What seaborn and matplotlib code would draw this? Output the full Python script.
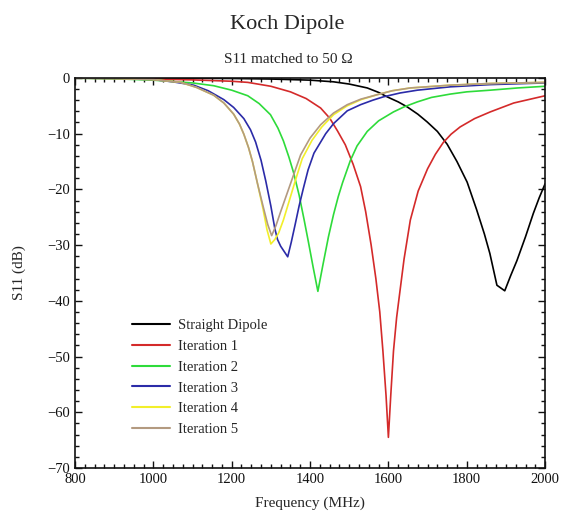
import numpy as np
import pandas as pd
import matplotlib
matplotlib.use("Agg")
import matplotlib.pyplot as plt
import seaborn as sns
from matplotlib.ticker import MultipleLocator

# ---- data ----
series_names = ["Straight Dipole", "Iteration 1", "Iteration 2",
                "Iteration 3", "Iteration 4", "Iteration 5"]

f_straight = [800, 1000, 1200, 1300, 1400, 1460, 1500, 1546, 1575, 1597, 1625, 1648,
              1675, 1699, 1725, 1750, 1775, 1801, 1825, 1845, 1859, 1877, 1897,
              1912, 1928, 1950, 1970, 1985, 2000]
s_straight = [-0.02, -0.05, -0.1, -0.2, -0.4, -0.7, -1.1, -1.8, -2.6, -3.4, -4.3, -5.2,
              -6.5, -7.9, -9.6, -11.9, -15.0, -18.7, -23.6, -28.0, -31.5, -37.2, -38.2,
              -35.5, -32.8, -28.5, -24.3, -21.5, -19.0]

f_it1 = [800, 900, 1000, 1100, 1200, 1241, 1300, 1350, 1390, 1427, 1450, 1470, 1490,
         1510, 1529, 1542, 1556, 1568, 1578, 1586, 1594, 1600, 1606, 1613, 1621, 1630,
         1640, 1656, 1676, 1700, 1720, 1740, 1760, 1783, 1820, 1860, 1920, 2000]
s_it1 = [-0.05, -0.1, -0.2, -0.35, -0.6, -0.8, -1.5, -2.5, -3.7, -5.4, -7.2, -9.5, -12.0,
         -15.5, -19.5, -24.0, -30.0, -36.0, -42.0, -49.0, -57.0, -64.5, -57.0, -49.0, -43.0, -38.0,
         -32.5, -25.5, -20.3, -16.3, -13.7, -11.6, -10.1, -8.8, -7.3, -6.1, -4.5, -3.2]

f_it2 = [800, 900, 1000, 1060, 1100, 1154, 1200, 1241, 1270, 1299, 1318, 1332, 1346,
         1358, 1372, 1385, 1396, 1408, 1420, 1433, 1447, 1460, 1472, 1483, 1503, 1520,
         1546, 1575, 1613, 1640, 1674, 1710, 1758, 1800, 1860, 1930, 2000]
s_it2 = [-0.05, -0.15, -0.4, -0.7, -0.9, -1.4, -2.2, -3.2, -4.6, -6.6, -9.0, -11.3, -14.2,
         -17.0, -21.0, -25.5, -29.5, -34.0, -38.3, -33.5, -28.5, -24.5, -21.3, -18.8, -14.8, -12.2,
         -9.6, -7.7, -6.1, -5.2, -4.3, -3.5, -2.9, -2.5, -2.2, -1.8, -1.5]

f_it3 = [800, 900, 1000, 1050, 1103, 1140, 1180, 1205, 1231, 1248, 1261, 1275, 1287,
         1300, 1310, 1317, 1325, 1343, 1352, 1362, 1372, 1383, 1395, 1410, 1440, 1460,
         1495, 1529, 1560, 1587, 1630, 1674, 1758, 1860, 2000]
s_it3 = [-0.02, -0.1, -0.3, -0.7, -1.3, -2.3, -3.9, -5.3, -7.3, -9.3, -11.5, -14.8, -18.5,
         -23.0, -27.0, -29.0, -30.2, -32.1, -29.5, -26.3, -23.0, -19.8, -16.5, -13.5, -10.0, -8.2,
         -5.9, -4.8, -4.0, -3.4, -2.7, -2.2, -1.6, -1.2, -0.9]

f_it4 = [800, 900, 1000, 1070, 1110, 1154, 1180, 1205, 1220, 1231, 1243, 1253, 1266,
         1280, 1290, 1300, 1310, 1320, 1332, 1348, 1363, 1380, 1405, 1430, 1460, 1495,
         1530, 1572, 1610, 1656, 1758, 1860, 2000]
s_it4 = [-0.02, -0.1, -0.3, -0.8, -1.7, -3.1, -4.5, -6.5, -8.3, -10.1, -12.5, -15.0, -19.0,
         -23.5, -27.2, -29.8, -29.0, -27.8, -25.5, -21.8, -18.3, -14.5, -11.2, -8.8, -6.6, -5.0,
         -3.9, -3.0, -2.3, -1.8, -1.3, -1.0, -0.8]

f_it5 = [800, 900, 1000, 1070, 1110, 1154, 1180, 1205, 1220, 1231, 1243, 1253, 1266,
         1280, 1292, 1302, 1313, 1325, 1340, 1355, 1376, 1400, 1427, 1460, 1495, 1530,
         1572, 1610, 1656, 1758, 1860, 2000]
s_it5 = [-0.02, -0.1, -0.3, -0.8, -1.7, -3.1, -4.5, -6.5, -8.3, -10.1, -12.5, -15.0, -19.0,
         -23.0, -26.3, -28.3, -26.5, -24.0, -21.0, -18.0, -13.8, -10.8, -8.4, -6.3, -4.8, -3.8,
         -3.0, -2.3, -1.8, -1.3, -1.0, -0.8]

x_ticks = [800, 1000, 1200, 1400, 1600, 1800, 2000]
y_ticks = [0, -10, -20, -30, -40, -50, -60, -70]

colors = ["#000000", "#d42a2a", "#2edb3a", "#2b2ba8", "#f2ef2a", "#b39a80"]

freqs = [f_straight, f_it1, f_it2, f_it3, f_it4, f_it5]
vals = [s_straight, s_it1, s_it2, s_it3, s_it4, s_it5]
frames = []
for name, f, v in zip(series_names, freqs, vals):
    frames.append(pd.DataFrame({"Frequency": f, "S11": v, "Series": name}))
df = pd.concat(frames, ignore_index=True)

# ---- plot ----
sns.set_theme(style="ticks")
plt.rcParams["font.family"] = ["Liberation Serif", "DejaVu Serif"]

fig = plt.figure(figsize=(5.63, 5.16), dpi=100)
ax = fig.add_axes([0.1332, 0.093, 0.835, 0.756])

sns.lineplot(data=df, x="Frequency", y="S11", hue="Series",
             hue_order=series_names, palette=colors, sort=False,
             linewidth=1.2, ax=ax, legend=True)

ax.set_xlim(800, 2000)
ax.set_ylim(-70, 0)
ax.set_xticks(x_ticks)
ax.set_yticks(y_ticks)
ax.set_xticklabels([str(t) for t in x_ticks])
ax.set_yticklabels([("\u2212" + str(-t)) if t < 0 else str(t) for t in y_ticks])
ax.xaxis.set_minor_locator(MultipleLocator(25))
ax.yaxis.set_minor_locator(MultipleLocator(2))
ax.tick_params(which="both", direction="in", top=True, right=True,
               labelsize=10.5, colors="#111111", width=1.0)
ax.tick_params(which="major", length=5)
ax.tick_params(which="minor", length=3)
for sp in ax.spines.values():
    sp.set_linewidth(1.2)
    sp.set_color("#111111")

ax.set_xlabel("Frequency (MHz)", fontsize=11, labelpad=8)
ax.set_ylabel("S11 (dB)", fontsize=11, labelpad=15)

fig.text(0.51, 0.953, "Koch Dipole", ha="center", va="center", fontsize=16)
fig.text(0.512, 0.884, "S11 matched to 50 \u03a9", ha="center", va="center", fontsize=11)

leg = ax.legend(loc="upper left", bbox_to_anchor=(0.122, 0.382), frameon=False,
                fontsize=10.5, handlelength=2.6, handletextpad=0.5,
                labelspacing=0.52, borderpad=0, borderaxespad=0)
for line in leg.get_lines():
    line.set_linewidth(1.5)

fig.savefig("out.png", dpi=100)
